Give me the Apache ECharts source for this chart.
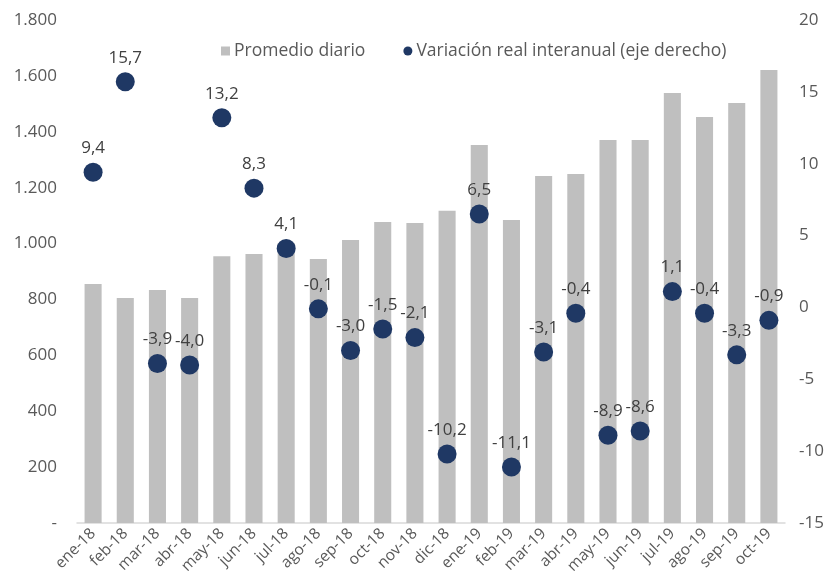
<!DOCTYPE html>
<html><head><meta charset="utf-8">
<script src="https://cdn.jsdelivr.net/npm/echarts@6/dist/echarts.min.js"></script>
<style>html,body{margin:0;padding:0;background:#fff}#c{width:827px;height:582px}</style>
</head><body><div id="c"></div>
<script>
const categories = ['ene-18','feb-18','mar-18','abr-18','may-18','jun-18','jul-18','ago-18','sep-18','oct-18','nov-18','dic-18','ene-19','feb-19','mar-19','abr-19','may-19','jun-19','jul-19','ago-19','sep-19','oct-19'];
const promedioDiario = [855,805,834,805,955,963,1002,945,1013,1077,1074,1117,1353,1084,1242,1249,1371,1371,1539,1453,1503,1621];
const variacionReal = [9.4,15.7,-3.9,-4.0,13.2,8.3,4.1,-0.1,-3.0,-1.5,-2.1,-10.2,6.5,-11.1,-3.1,-0.4,-8.9,-8.6,1.1,-0.4,-3.3,-0.9];
const leftTicks = {min:0,max:1800,interval:200};
const rightTicks = {min:-15,max:20,interval:5};

const font = '"Open Sans", "Noto Sans", sans-serif';
const chart = echarts.init(document.getElementById('c'));
chart.setOption({
  animation:false,
  textStyle:{fontFamily:font},
  grid:{left:77,right:42,top:20,bottom:59,containLabel:false},
  legend:{
    top:37,left:216,itemGap:38,itemWidth:9,itemHeight:9,
    textStyle:{fontSize:17.5,color:'#595959',fontFamily:font,padding:[0,0,0,-1]},
    data:[{name:'Promedio diario',icon:'rect'},{name:'Variación real interanual (eje derecho)',icon:'circle'}]
  },
  xAxis:{
    type:'category',data:categories,
    axisLine:{lineStyle:{color:'#d9d9d9',width:1.5}},
    axisTick:{show:false},
    axisLabel:{rotate:45,fontSize:15.5,color:'#595959',interval:0,margin:8,fontFamily:font}
  },
  yAxis:[{
    type:'value',min:leftTicks.min,max:leftTicks.max,interval:leftTicks.interval,
    splitLine:{show:false},axisLine:{show:false},axisTick:{show:false},
    axisLabel:{fontSize:17,color:'#595959',margin:20,fontFamily:font,
      formatter:v=>v===0?'-':v.toString().replace(/\B(?=(\d{3})+(?!\d))/g,'.')}
  },{
    type:'value',min:rightTicks.min,max:rightTicks.max,interval:rightTicks.interval,
    splitLine:{show:false},axisLine:{show:false},axisTick:{show:false},
    axisLabel:{fontSize:17,color:'#595959',margin:14,fontFamily:font}
  }],
  series:[{
    name:'Promedio diario',type:'bar',data:promedioDiario,barWidth:'53%',
    itemStyle:{color:'#bfbfbf'}
  },{
    name:'Variación real interanual (eje derecho)',type:'scatter',yAxisIndex:1,data:variacionReal,
    symbolSize:19,itemStyle:{color:'#1f3864',opacity:1},
    label:{show:true,position:'top',distance:6,fontSize:17,color:'#404040',fontFamily:font,
      formatter:p=>p.value.toFixed(1).replace('.',',')}
  }]
});
</script></body></html>
